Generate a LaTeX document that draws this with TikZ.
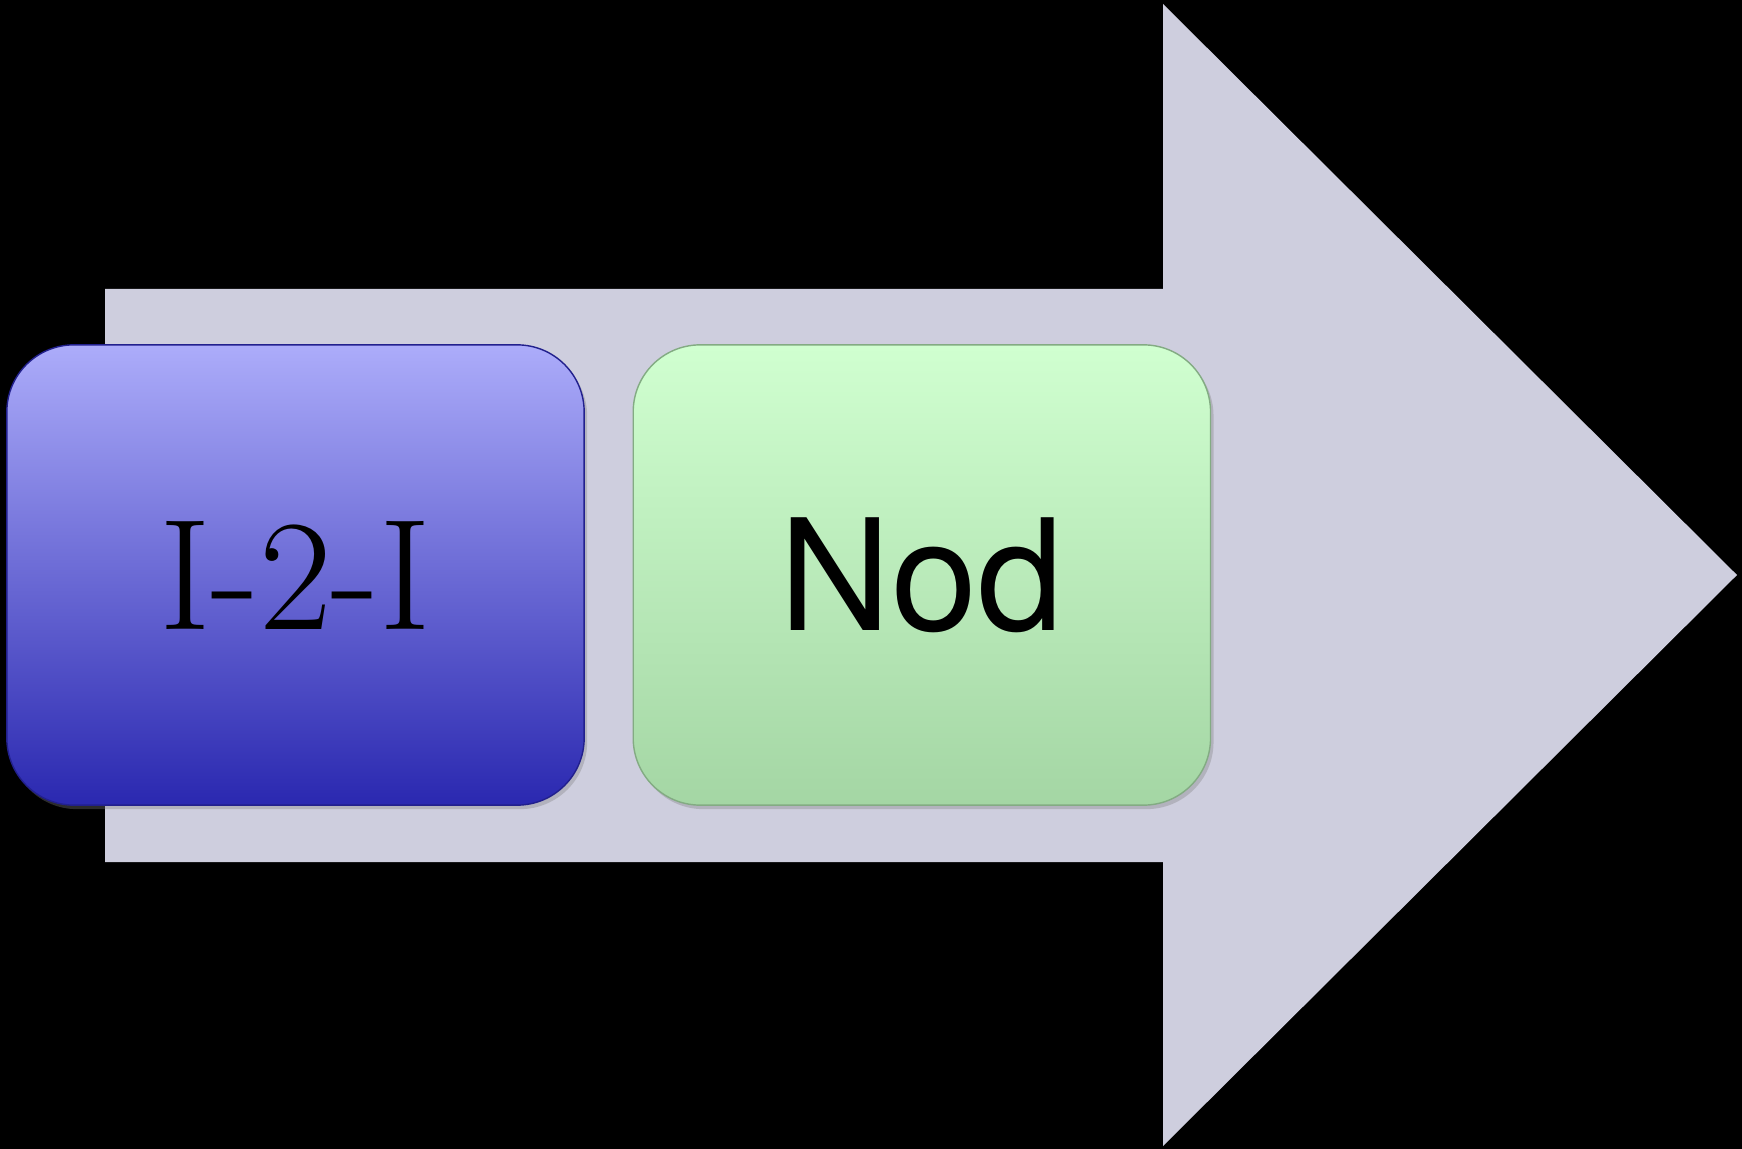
\documentclass[tikz,border=0pt]{standalone}
\usepackage{fontspec}
\setsansfont{TeX Gyre Heros}
\usepackage{tikz}
\usetikzlibrary{positioning, shadows}

\definecolor{shaftgray}{RGB}{206,206,222}
\definecolor{bluetop}{RGB}{172,172,250}
\definecolor{bluebot}{RGB}{42,40,176}
\definecolor{greentop}{RGB}{208,255,208}
\definecolor{greenbot}{RGB}{164,214,164}

\begin{document}
\begin{tikzpicture}[
  x=0.01cm, y=-0.01cm,
  card/.style = {rounded corners=0.67cm, minimum width=5.77cm, minimum height=4.6cm,
                 inner sep=0pt, outer sep=0pt, line width=0.4pt,
                 drop shadow={opacity=0.35, shadow xshift=0.03cm, shadow yshift=-0.04cm}},
  bluecard/.style  = {card, draw=bluebot!80!black, top color=bluetop, bottom color=bluebot,
                      font=\rmfamily\fontsize{45}{50}\selectfont},
  greencard/.style = {card, draw=greenbot!80!black, top color=greentop, bottom color=greenbot,
                      font=\sffamily\fontsize{44}{50}\selectfont},
]
  % black page
  \fill[black] (0,0) rectangle (1742,1149);

  % big arrow behind the cards
  \fill[shaftgray] (105,289) -- (1163,289) -- (1163,4) -- (1737,575)
                   -- (1163,1146) -- (1163,862) -- (105,862) -- cycle;

  \node[bluecard]                        (itwoi) at (295.5,575) {I-2-I};
  \node[greencard, right=0.49cm of itwoi] (nod)                  {Nod};
\end{tikzpicture}
\end{document}
